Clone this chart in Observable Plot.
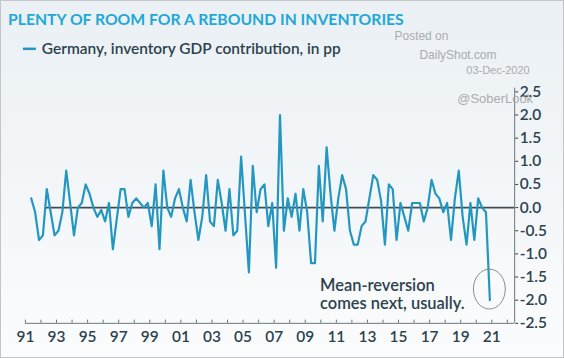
<!DOCTYPE html>
<html><head><meta charset="utf-8">
<script src="https://cdn.jsdelivr.net/npm/d3@7"></script>
<script src="https://cdn.jsdelivr.net/npm/@observablehq/plot@0.6"></script>
<style>
body{margin:0;background:#fff}
#wrap{position:relative;width:564px;height:358px;box-sizing:border-box;border:1px solid #c3c6c8;background:linear-gradient(#eaf0f4,#fbfcfd);overflow:hidden}
#wrap svg{position:absolute;left:-1px;top:-1px;background:transparent}
</style></head><body><div id="wrap"></div>
<script>
const title = "PLENTY OF ROOM FOR A REBOUND IN INVENTORIES";
const seriesName = "Germany, inventory GDP contribution, in pp";
const watermark = ["Posted on", "DailyShot.com", "03-Dec-2020", "@SoberLook"];
const annotation = ["Mean-reversion", "comes next, usually."];
const firstQuarter = 1991; // 1991 Q1 .. 2020 Q3
const values = [
 0.2,-0.1,-0.7,-0.6, 0.4,-0.1,-0.6,-0.5,-0.1, 0.8, 0.1,-0.6,
 0.0, 0.1, 0.5, 0.3, 0.0,-0.2,-0.05,-0.3, 0.1,-0.9,-0.25, 0.4,
 0.4,-0.2, 0.1, 0.2, 0.1, 0.0, 0.1,-0.4, 0.5,-0.9, 0.8, 0.0,
 -0.2, 0.2, 0.4, 0.0,-0.3, 0.6,-0.1,-0.7,-0.2, 0.7,-0.3,-0.4,
 0.6, 0.1,-0.5, 0.4,-0.6,-0.5, 1.1,-0.15,-1.4, 0.9,-0.1, 0.4,
 0.5,-0.4, 0.1,-1.3, 2.0,-0.5, 0.2,-0.2, 0.3,-0.5, 0.4,-0.1,
 -1.2,-1.2, 0.9,-0.3, 1.3, 0.3,-0.5, 0.2, 0.7, 0.4,-0.5,-0.8,
 -0.8,-0.4,-0.3, 0.2, 0.7, 0.6, 0.15,-0.8, 0.5, 0.4,-0.7, 0.1,
 -0.2,-0.5, 0.1, 0.1, 0.1,-0.3, 0.0, 0.6, 0.3, 0.2,-0.1, 0.1,
 -0.7, 0.2, 0.8,-0.2,-0.8, 0.1,-0.7, 0.2, 0.0,-0.1,-2.0
];
const yTicks = [-2.5,-2.0,-1.5,-1.0,-0.5,0.0,0.5,1.0,1.5,2.0,2.5];
const xLabelYears = d3.range(1991, 2022, 2);
const xTickYears = d3.range(1991, 2023, 1);

const data = values.map((v, i) => ({t: firstQuarter + 0.375 + i * 0.25, v}));
const xMax = 2022.47;
const lineColor = "#2397c0";
const ink = "#2c424d";
const font = "Lato, 'Open Sans', sans-serif";

const plot = Plot.plot({
  width: 564, height: 358,
  marginLeft: 25, marginRight: 48, marginTop: 91.7, marginBottom: 34,
  style: {background: "transparent", fontFamily: font, fontWeight: 600, overflow: "visible"},
  x: {domain: [1991, xMax]},
  y: {domain: [-2.5, 2.5]},
  marks: [
    Plot.ruleY([0], {x1: 1992.35, x2: xMax, stroke: "#3f4d52", strokeWidth: 1.6}),
    Plot.line(data, {x: "t", y: "v", stroke: lineColor, strokeWidth: 2.2, strokeLinejoin: "round"}),
    Plot.ruleY([-2.5], {x1: 1991, x2: xMax, stroke: "#6a767c", strokeWidth: 1}),
    Plot.ruleX([xMax], {y1: -2.5, y2: 2.58, stroke: "#6a767c", strokeWidth: 1}),
    Plot.ruleX(xTickYears, {y1: -2.5, y2: -2.5 + 0.07, stroke: "#6a767c", strokeWidth: 1}),
    Plot.axisX({ticks: xLabelYears, tickSize: 0, tickPadding: 8, fontSize: 15.5,
      tickFormat: d => String(d % 100).padStart(2, "0"), color: ink, label: null}),
    Plot.axisY({anchor: "right", ticks: yTicks, tickSize: 3, tickPadding: 2, fontSize: 15.5,
      tickFormat: d => d.toFixed(1), color: ink, label: null}),
    Plot.text([annotation.join("\n")], {x: 2009.95, y: -2.2, text: d => d, textAnchor: "start",
      lineAnchor: "bottom", lineHeight: 1.15, fontSize: 16.5, fill: ink, fontFamily: font})
  ]
});
document.getElementById("wrap").appendChild(plot);

const svg = d3.select(plot);
const xs = plot.scale("x"), ys = plot.scale("y");
svg.append("ellipse")
  .attr("cx", xs.apply(firstQuarter + 0.375 + (values.length - 1) * 0.25))
  .attr("cy", ys.apply(-1.77)).attr("rx", 16).attr("ry", 20)
  .attr("fill", "none").attr("stroke", "#7b7f82").attr("stroke-width", 0.9);

const g = svg.append("g").attr("text-anchor", "start");
g.append("text").attr("x", 8).attr("y", 25).text(title)
  .attr("fill", "#1fa8d6").attr("font-family", font).attr("font-weight", 700).attr("font-size", 15.8);
g.append("line").attr("x1", 23).attr("x2", 36).attr("y1", 49).attr("y2", 49)
  .attr("stroke", lineColor).attr("stroke-width", 2.5);
g.append("text").attr("x", 42).attr("y", 54).text(seriesName)
  .attr("fill", ink).attr("font-family", font).attr("font-weight", 600).attr("font-size", 15.5);

const wm = [[396, 40, 12], [421, 59, 12], [468, 74, 11], [459, 103, 13]];
watermark.forEach((s, i) => {
  g.append("text").attr("x", wm[i][0]).attr("y", wm[i][1]).text(s)
    .attr("fill", "#a6a9ab").attr("font-family", "'Liberation Sans', Arial, sans-serif")
    .attr("font-weight", 400).attr("font-size", wm[i][2]).attr("opacity", 0.95);
});
</script></body></html>
